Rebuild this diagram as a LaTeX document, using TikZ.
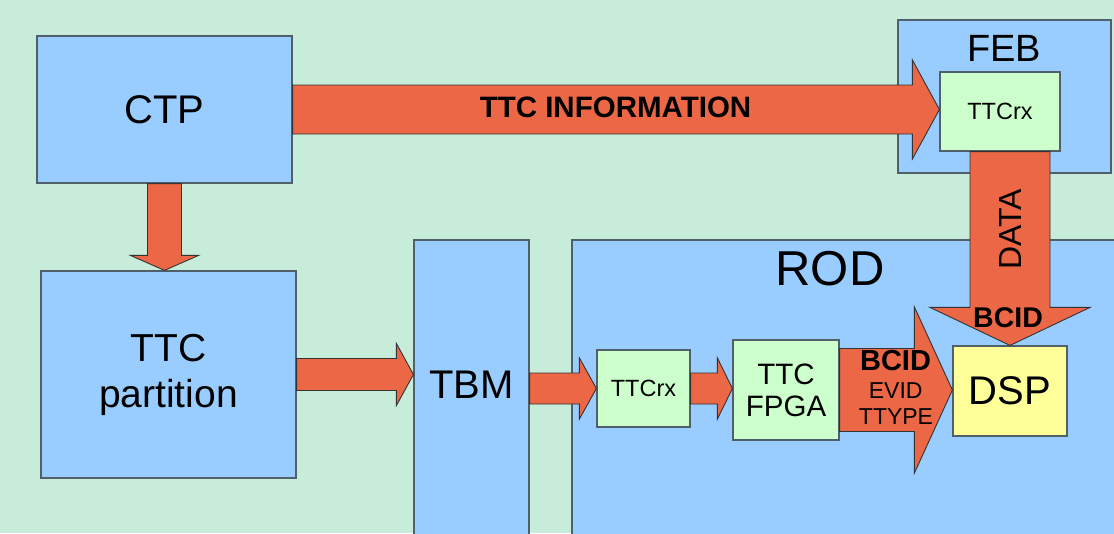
\documentclass[tikz,border=0pt]{standalone}
\usepackage{fontspec}
\setmainfont{Liberation Sans}
\usetikzlibrary{calc}

\definecolor{bgcol}{HTML}{C7ECDA}
\definecolor{boxblue}{HTML}{99CCFF}
\definecolor{boxgreen}{HTML}{CCFFCC}
\definecolor{boxyellow}{HTML}{FFFF99}
\definecolor{arrowfill}{HTML}{EC6745}
\definecolor{edgecol}{HTML}{50606A}

% horizontal block arrow: from, to, shaft half-width, head half-width, head length
\newcommand\blockarrowH[5]{%
  \draw[arrowbody] ($(#1)+(0,#3)$) -- ($(#2)+(-#5,#3)$) -- ($(#2)+(-#5,#4)$) -- (#2)
    -- ($(#2)+(-#5,-#4)$) -- ($(#2)+(-#5,-#3)$) -- ($(#1)+(0,-#3)$) -- cycle;}
% downward block arrow: from, to, shaft half-width, head half-width, head length
\newcommand\blockarrowV[5]{%
  \draw[arrowbody] ($(#1)+(#3,0)$) -- ($(#2)+(#3,-#5)$) -- ($(#2)+(#4,-#5)$) -- (#2)
    -- ($(#2)+(-#4,-#5)$) -- ($(#2)+(-#3,-#5)$) -- ($(#1)+(-#3,0)$) -- cycle;}

\newcommand\fs[2]{\fontsize{#1}{#2}\selectfont}

\begin{document}
\begin{tikzpicture}[x=1pt,y=-1pt,
  block/.style={draw=edgecol, line width=1.2pt, rectangle, inner sep=0pt, align=center},
  bluebox/.style={block, fill=boxblue},
  greenbox/.style={block, fill=boxgreen},
  yellowbox/.style={block, fill=boxyellow},
  arrowbody/.style={fill=arrowfill, draw=black!80, line width=0.9pt, line join=miter},
  lbl/.style={inner sep=0pt, text=black}
]
\clip (0,0) rectangle (1114,533);
\fill[bgcol] (0,0) rectangle (1114,533);

% large blocks
\node[bluebox, minimum width=255pt, minimum height=147pt, font=\fs{40}{44}] (ctp) at (164.5,109.5) {CTP};
\node[bluebox, minimum width=255pt, minimum height=207pt, font=\fs{39}{46}] (part) at (168.5,374.5) {TTC\\partition};
\node[bluebox, minimum width=115pt, minimum height=305pt] (tbm) at (471.5,392.5) {};
\node[lbl, font=\fs{40}{44}] (tbmlbl) at (471.5,384.5) {TBM};
\node[bluebox, minimum width=558pt, minimum height=305pt] (rod) at (851,392.5) {};
\node[lbl, font=\fs{49}{52}, anchor=base] (rodlbl) at (830,285) {ROD};
\node[bluebox, minimum width=213pt, minimum height=153pt] (feb) at (1004.5,96.5) {};
\node[lbl, font=\fs{38}{42}] (feblbl) at (1004,48) {FEB};

% inner blocks
\node[greenbox, minimum width=120pt, minimum height=79pt, font=\fs{23.5}{26}] (ttcrxA) at (1000,111.5) {TTCrx};
\node[greenbox, minimum width=93pt, minimum height=77pt, font=\fs{23.5}{26}] (ttcrxR) at (643.5,388.5) {TTCrx};
\node[greenbox, minimum width=106pt, minimum height=100pt, font=\fs{29.5}{32}] (fpga) at (786,390) {TTC\\FPGA};
\node[yellowbox, minimum width=114pt, minimum height=90pt, font=\fs{40}{44}] (dsp) at (1010,391) {DSP};

% arrow end points
\coordinate (infoEnd) at (ttcrxA.west |- ctp.east);
\coordinate (ctpDownEnd) at (ctp.south |- part.north);
\coordinate (partEnd) at (tbm.west |- part.east);
\coordinate (tbmStart) at (tbm.east |- ttcrxR.west);
\coordinate (rxEnd) at (fpga.west |- ttcrxR.east);
\coordinate (fpgaEnd) at (dsp.west |- fpga.east);
\coordinate (dataStart) at (dsp.north |- ttcrxA.south);

% block arrows
\blockarrowH{ctp.east}{infoEnd}{24.5}{49.5}{27}
\blockarrowV{ctp.south}{ctpDownEnd}{17}{34}{15}
\blockarrowH{part.east}{partEnd}{16}{31}{17}
\blockarrowH{tbmStart}{ttcrxR.west}{15.5}{30.5}{17}
\blockarrowH{ttcrxR.east}{rxEnd}{15.5}{30.5}{15}
\blockarrowH{fpga.east}{fpgaEnd}{41.5}{83}{38}
\blockarrowV{dataStart}{dsp.north}{40}{80}{38}

% arrow labels
\node[lbl, font=\bfseries\fs{29.5}{32}, anchor=base] (infolbl) at (615.5,117) {TTC INFORMATION};
\node[lbl, font=\fs{32}{36}, rotate=90] (datalbl) at (1010.5,229.5) {DATA};
\node[lbl, font=\bfseries\fs{28.5}{32}, anchor=base] (bcidA) at (1008,327) {BCID};
\node[lbl, font=\bfseries\fs{29}{32}, anchor=base] (bcidB) at (895.5,370) {BCID};
\node[lbl, font=\fs{23}{26}, anchor=base] (evid) at (895.7,398) {EVID};
\node[lbl, font=\fs{23}{26}, anchor=base] (ttype) at (896,424) {TTYPE};
\end{tikzpicture}
\end{document}
